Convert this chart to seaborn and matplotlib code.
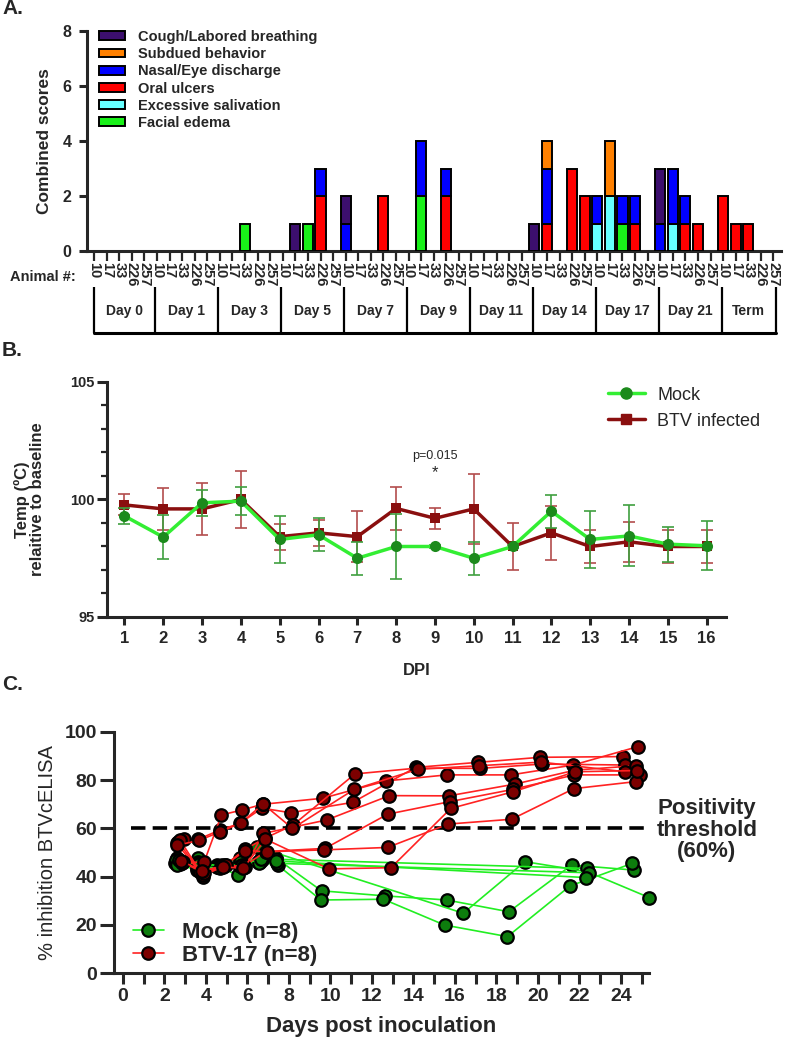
import matplotlib
matplotlib.use('Agg')
import matplotlib.pyplot as plt
from matplotlib.lines import Line2D
from matplotlib.patches import Patch
from matplotlib.ticker import MultipleLocator
import numpy as np
import pandas as pd
import seaborn as sns

# ---------------- panel A: clinical scores ----------------
day_groups = ['Day 0', 'Day 1', 'Day 3', 'Day 5', 'Day 7', 'Day 9',
              'Day 11', 'Day 14', 'Day 17', 'Day 21', 'Term']
animals = ['10', '17', '33', '226', '257']

# one row of five animals per day group
facial_edema = [0, 0, 0, 0, 0,  0, 0, 0, 0, 0,  0, 0, 1, 0, 0,  0, 0, 1, 0, 0,
                0, 0, 0, 0, 0,  0, 2, 0, 0, 0,  0, 0, 0, 0, 0,  0, 0, 0, 0, 0,
                0, 0, 1, 0, 0,  0, 0, 0, 0, 0,  0, 0, 0, 0, 0]
salivation = [0, 0, 0, 0, 0,  0, 0, 0, 0, 0,  0, 0, 0, 0, 0,  0, 0, 0, 0, 0,
              0, 0, 0, 0, 0,  0, 0, 0, 0, 0,  0, 0, 0, 0, 0,  0, 0, 0, 0, 0,
              1, 2, 0, 0, 0,  0, 1, 0, 0, 0,  0, 0, 0, 0, 0]
oral_ulcers = [0, 0, 0, 0, 0,  0, 0, 0, 0, 0,  0, 0, 0, 0, 0,  0, 0, 0, 2, 0,
               0, 0, 0, 2, 0,  0, 0, 0, 2, 0,  0, 0, 0, 0, 0,  0, 1, 0, 3, 2,
               0, 0, 0, 1, 0,  0, 0, 1, 1, 0,  2, 1, 1, 0, 0]
nasal_eye = [0, 0, 0, 0, 0,  0, 0, 0, 0, 0,  0, 0, 0, 0, 0,  0, 0, 0, 1, 0,
             1, 0, 0, 0, 0,  0, 2, 0, 1, 0,  0, 0, 0, 0, 0,  0, 2, 0, 0, 0,
             1, 0, 1, 1, 0,  1, 2, 1, 0, 0,  0, 0, 0, 0, 0]
subdued = [0, 0, 0, 0, 0,  0, 0, 0, 0, 0,  0, 0, 0, 0, 0,  0, 0, 0, 0, 0,
           0, 0, 0, 0, 0,  0, 0, 0, 0, 0,  0, 0, 0, 0, 0,  0, 1, 0, 0, 0,
           0, 2, 0, 0, 0,  0, 0, 0, 0, 0,  0, 0, 0, 0, 0]
cough = [0, 0, 0, 0, 0,  0, 0, 0, 0, 0,  0, 0, 0, 0, 0,  0, 1, 0, 0, 0,
         1, 0, 0, 0, 0,  0, 0, 0, 0, 0,  0, 0, 0, 0, 0,  1, 0, 0, 0, 0,
         0, 0, 0, 0, 0,  2, 0, 0, 0, 0,  0, 0, 0, 0, 0]

# bottom-to-top stacking order
symptoms = [
    ('Facial edema', facial_edema, '#19f019'),
    ('Excessive salivation', salivation, '#66ffff'),
    ('Oral ulcers', oral_ulcers, '#ff0000'),
    ('Nasal/Eye discharge', nasal_eye, '#0000ff'),
    ('Subdued behavior', subdued, '#ff8000'),
    ('Cough/Labored breathing', cough, '#3c0f6e'),
]

# ---------------- panel B: temperature ----------------
dpi_days = list(range(1, 17))
mock_temp = [99.3, 98.4, 99.86, 99.93, 98.3, 98.5, 97.5, 98.0,
             98.0, 97.5, 98.0, 99.5, 98.3, 98.45, 98.1, 98.03]
mock_err = [0.35, 0.95, 0.55, 0.6, 1.0, 0.7, 0.7, 1.4,
            0.05, 0.7, 0.05, 0.7, 1.2, 1.3, 0.75, 1.05]
btv_temp = [99.77, 99.6, 99.6, 100.0, 98.42, 98.58, 98.42, 99.62,
            99.2, 99.6, 98.0, 98.58, 98.0, 98.2, 98.0, 98.0]
btv_err = [0.45, 0.9, 1.1, 1.2, 0.55, 0.55, 1.1, 0.9,
           0.45, 1.5, 1.0, 1.15, 0.7, 0.85, 0.7, 0.7]

# ---------------- panel C: cELISA per animal ----------------
mock_days = [
    [2.59, 3.63, 4.55, 5.64, 6.60, 7.37, 9.57, 12.63, 15.60, 18.60, 21.62, 24.63],
    [2.50, 3.55, 4.51, 5.56, 6.52, 7.45, 9.54, 12.55, 15.50, 18.53, 21.54, 24.55],
    [2.75, 3.70, 4.70, 5.77, 6.44, 16.40, 19.37, 22.40, 25.36],
    [2.65, 3.60, 4.62, 5.70, 6.62, 7.40, 22.35],
    [2.55, 3.58, 4.58, 5.60, 6.56, 7.42, 22.45],
    [2.70, 3.65, 4.65, 5.66, 6.70, 7.38, 22.30],
    [2.60, 3.62, 4.68, 5.62, 6.58],
    [2.68, 3.66, 4.72, 5.72, 6.66],
]
mock_vals = [
    [47.6, 47.6, 44.8, 47.7, 46.2, 47.7, 34.1, 32.0, 30.3, 25.4, 44.8, 42.7],
    [45.6, 42.7, 44.1, 40.7, 46.2, 44.8, 30.3, 30.6, 19.9, 15.1, 36.1, 45.5],
    [45.1, 44.3, 44.0, 45.5, 52.4, 24.8, 46.2, 42.0, 31.3],
    [46.5, 46.0, 44.5, 46.5, 47.0, 47.2, 43.4],
    [47.0, 43.5, 43.8, 45.0, 46.0, 45.5, 41.6],
    [46.0, 45.5, 44.5, 46.0, 46.8, 46.5, 39.6],
    [45.0, 44.0, 43.6, 44.5, 45.6],
    [46.8, 45.2, 44.6, 44.8, 47.5],
]
btv_days = [
    [2.94, 3.63, 4.67, 5.64, 6.70, 8.08, 11.07, 14.10, 17.10, 20.10, 24.08],
    [2.83, 3.92, 4.75, 5.72, 6.73, 9.62, 12.68, 15.60, 18.70, 21.70, 24.80],
    [2.67, 3.71, 4.92, 5.88, 6.84, 8.20, 11.18, 14.15, 17.20, 20.20, 24.20],
    [2.59, 3.87, 4.76, 5.88, 6.76, 9.82, 12.84, 15.70, 18.90, 21.80, 24.70],
    [2.75, 3.84, 4.86, 5.85, 6.89, 9.74, 12.76, 15.75, 18.80, 21.75, 24.90],
    [2.60, 3.66, 4.70, 5.67, 6.76, 8.17, 11.15, 14.20, 17.15, 20.15, 24.20],
    [2.88, 3.90, 4.95, 5.90, 6.92, 9.70, 12.75, 15.68, 18.73, 21.73, 24.70],
    [2.80, 3.80, 4.80, 5.80, 6.87, 9.93, 12.92, 15.80, 18.80, 21.80, 24.75],
]
btv_vals = [
    [55.5, 55.5, 59.3, 62.1, 68.4, 66.5, 70.8, 85.3, 87.4, 89.5, 89.8],
    [45.5, 46.2, 65.6, 67.6, 70.0, 72.5, 79.7, 82.2, 82.2, 86.3, 93.9],
    [54.5, 42.0, 44.8, 51.3, 55.9, 61.4, 82.6, 85.0, 84.9, 86.7, 86.3],
    [53.9, 40.0, 44.8, 43.9, 57.9, 63.5, 73.6, 73.5, 78.4, 84.2, 86.0],
    [55.2, 40.5, 44.2, 44.5, 50.4, 51.7, 65.9, 71.1, 76.2, 82.2, 82.2],
    [53.0, 55.0, 58.6, 62.2, 70.1, 60.0, 76.2, 84.5, 86.0, 87.5, 83.5],
    [45.9, 41.5, 45.0, 50.8, 50.3, 51.1, 52.1, 61.8, 63.8, 76.5, 79.4],
    [46.5, 42.5, 44.0, 43.5, 55.5, 43.2, 43.7, 68.3, 75.2, 83.5, 84.0],
]
threshold = 60

# ---------------- styling ----------------
sns.set_theme(style='ticks')
plt.rcParams['font.family'] = ['Liberation Sans', 'DejaVu Sans']
plt.rcParams['axes.linewidth'] = 2.2

W, H = 785, 1049
fig = plt.figure(figsize=(W / 100, H / 100), dpi=100)


def box(l, r, t, b):
    """pixel box -> figure fraction [left, bottom, width, height]"""
    return [l / W, 1 - b / H, (r - l) / W, (b - t) / H]


# ====== A ======
axA = fig.add_axes(box(87, 781, 31, 251))
pos = np.arange(len(day_groups) * len(animals))
bottom = np.zeros(len(pos))
for name, vals, col in symptoms:
    vals = np.array(vals, dtype=float)
    m = vals > 0
    axA.bar(pos[m], vals[m], bottom=bottom[m], width=0.8, color=col,
            edgecolor='black', linewidth=1.4, zorder=3)
    bottom += vals
axA.set_xlim(-0.56, 54.6)
axA.set_ylim(0, 8)
axA.set_yticks([0, 2, 4, 6, 8])
axA.set_xticks(pos)
axA.set_xticklabels(animals * len(day_groups), rotation=270,
                    fontsize=10.5, fontweight='bold')
axA.tick_params(axis='x', length=7, width=1.6, pad=1)
axA.tick_params(axis='y', length=6, width=2.2, pad=5, labelsize=11.5)
for t in axA.get_yticklabels():
    t.set_fontweight('bold')
axA.set_ylabel('Combined scores', fontsize=12.5, fontweight='bold', labelpad=8)
sns.despine(ax=axA)

leg_handles = [Patch(facecolor=c, edgecolor='black', linewidth=1.4, label=n)
               for n, _, c in symptoms[::-1]]
legA = axA.legend(handles=leg_handles, loc='upper left',
                  bbox_to_anchor=(0.018, 1.005), frameon=False,
                  prop={'size': 10.5, 'weight': 'bold'}, handlelength=1.75,
                  handleheight=0.55, handletextpad=0.9, labelspacing=0.22,
                  borderaxespad=0, borderpad=0)

# day group bracket below the animal labels
axG = fig.add_axes(box(87, 781, 287, 333), sharex=axA)
axG.set_axis_off()
edges = [pos[0]] + [k * len(animals) - 0.12 for k in range(1, len(day_groups))] + [pos[-1] + 0.17]
for e in edges:
    axG.plot([e, e], [0, 1], color='black', lw=1.6, clip_on=False, solid_capstyle='butt')
axG.plot([edges[0], edges[-1]], [0, 0], color='black', lw=2.2, clip_on=False)
axG.set_ylim(0, 1)
for g, a, b in zip(day_groups, edges[:-1], edges[1:]):
    axG.text((a + b) / 2, 0.47, g, ha='center', va='center',
             fontsize=10, fontweight='bold')
fig.text(10 / W, 1 - 277 / H, 'Animal #:', fontsize=10.5, fontweight='bold',
         va='center', ha='left')

# ====== B ======
axB = fig.add_axes(box(107, 726, 382, 617))
mock_line, mock_mark, mock_eb = '#33ee33', '#1c8a1c', '#3f9f3f'
btv_line, btv_eb = '#8a0f0f', '#b34d4d'
axB.errorbar(dpi_days, btv_temp, yerr=btv_err, fmt='none', ecolor=btv_eb,
             elinewidth=1.2, capsize=4, capthick=1.2, zorder=2)
sns.lineplot(x=dpi_days, y=btv_temp, ax=axB, color=btv_line, linewidth=2.5,
             marker='s', markersize=7.5, markerfacecolor=btv_line,
             markeredgecolor=btv_line, markeredgewidth=0, zorder=3)
axB.errorbar(dpi_days, mock_temp, yerr=mock_err, fmt='none', ecolor=mock_eb,
             elinewidth=1.2, capsize=4, capthick=1.2, zorder=4)
sns.lineplot(x=dpi_days, y=mock_temp, ax=axB, color=mock_line, linewidth=2.5,
             marker='o', markersize=8, markerfacecolor=mock_mark,
             markeredgecolor=mock_mark, markeredgewidth=0, zorder=5)
axB.set_xlim(0.55, 16.5)
axB.set_ylim(95, 105)
axB.set_xticks(dpi_days)
axB.set_yticks([95, 100, 105])
axB.yaxis.set_minor_locator(MultipleLocator(1))
axB.tick_params(axis='x', length=6, width=2.2, labelsize=12, pad=4)
axB.tick_params(axis='y', which='major', length=7, width=2.2, labelsize=10.5, pad=2)
axB.tick_params(axis='y', which='minor', length=4, width=1.6, left=True)
for t in axB.get_xticklabels() + axB.get_yticklabels():
    t.set_fontweight('bold')
axB.set_xlabel('DPI', fontsize=12, fontweight='bold', labelpad=12)
axB.set_ylabel('Temp (ºC)\nrelaitive to baseline', fontsize=12,
               fontweight='bold', linespacing=1.0)
axB.yaxis.set_label_coords(-0.1, 0.5)
sns.despine(ax=axB)
axB.text(9, 101.85, 'p=0.015', ha='center', va='center', fontsize=9)
axB.text(9, 101.15, '*', ha='center', va='center', fontsize=12)
hB = [Line2D([], [], color=mock_line, lw=2.5, marker='o', ms=8,
             mfc=mock_mark, mec=mock_mark, label='Mock'),
      Line2D([], [], color=btv_line, lw=2.5, marker='s', ms=7.5,
             mfc=btv_line, mec=btv_line, label='BTV infected')]
axB.legend(handles=hB, loc='upper left', bbox_to_anchor=(0.81, 0.98),
           frameon=False, fontsize=13, handlelength=2.0, handletextpad=0.7,
           labelspacing=0.5, borderaxespad=0, borderpad=0)

# ====== C ======
axC = fig.add_axes(box(114, 649, 732, 973))
rows = []
for grp, dd, vv in (('Mock', mock_days, mock_vals), ('BTV-17', btv_days, btv_vals)):
    for i, (d, v) in enumerate(zip(dd, vv)):
        for x, y in zip(d, v):
            rows.append((grp, f'{grp}-{i}', x, y))
df = pd.DataFrame(rows, columns=['group', 'animal', 'day', 'inhibition'])

c_mock_line, c_mock_face = '#22ee22', '#0d7d0d'
c_btv_line, c_btv_face = '#ff2222', '#7d0000'
axC.axhline(threshold, xmin=0.032, xmax=0.998, color='black', lw=2.6,
            ls=(0, (4, 2)), zorder=1)
sns.lineplot(data=df[df.group == 'Mock'], x='day', y='inhibition', units='animal',
             estimator=None, sort=False, ax=axC, color=c_mock_line, linewidth=1.2,
             marker='o', markersize=9, markerfacecolor=c_mock_face,
             markeredgecolor='black', markeredgewidth=1.6, zorder=2, clip_on=False)
sns.lineplot(data=df[df.group == 'BTV-17'], x='day', y='inhibition', units='animal',
             estimator=None, sort=False, ax=axC, color=c_btv_line, linewidth=1.2,
             marker='o', markersize=9, markerfacecolor=c_btv_face,
             markeredgecolor='black', markeredgewidth=1.6, zorder=3, clip_on=False)
axC.set_xlim(-0.43, 25.35)
axC.set_ylim(0, 100)
axC.set_xticks(range(0, 25, 2))
axC.xaxis.set_minor_locator(MultipleLocator(1))
axC.set_yticks(range(0, 101, 20))
axC.tick_params(axis='x', which='both', length=8, width=2.2, labelsize=14, pad=3)
axC.tick_params(axis='x', which='minor', bottom=True)
axC.tick_params(axis='y', length=10, width=2.2, labelsize=14, pad=2)
for t in axC.get_xticklabels() + axC.get_yticklabels():
    t.set_fontweight('bold')
axC.set_xlabel('Days post inoculation', fontsize=16, fontweight='bold', labelpad=8)
axC.set_ylabel('% inhibition BTVcELISA', fontsize=14.5, labelpad=6)
sns.despine(ax=axC)
hC = [Line2D([], [], color=c_mock_line, lw=1.2, marker='o', ms=9,
             mfc=c_mock_face, mec='black', mew=1.6, label='Mock (n=8)'),
      Line2D([], [], color=c_btv_line, lw=1.2, marker='o', ms=9,
             mfc=c_btv_face, mec='black', mew=1.6, label='BTV-17 (n=8)')]
axC.legend(handles=hC, loc='lower left', bbox_to_anchor=(0.035, 0.03),
           frameon=False, prop={'size': 16, 'weight': 'bold'}, handlelength=1.4,
           handletextpad=0.8, labelspacing=0.1, borderaxespad=0, borderpad=0)
fig.text(707 / W, 1 - 830 / H, 'Positivity\nthreshold\n(60%)', ha='center',
         va='center', fontsize=16, fontweight='bold', linespacing=1.05)

# panel letters
for letter, y in (('A.', 9), ('B.', 350), ('C.', 685)):
    fig.text(2 / W, 1 - y / H, letter, fontsize=15, fontweight='bold',
             va='center', ha='left')

fig.savefig('out.png', dpi=100)
